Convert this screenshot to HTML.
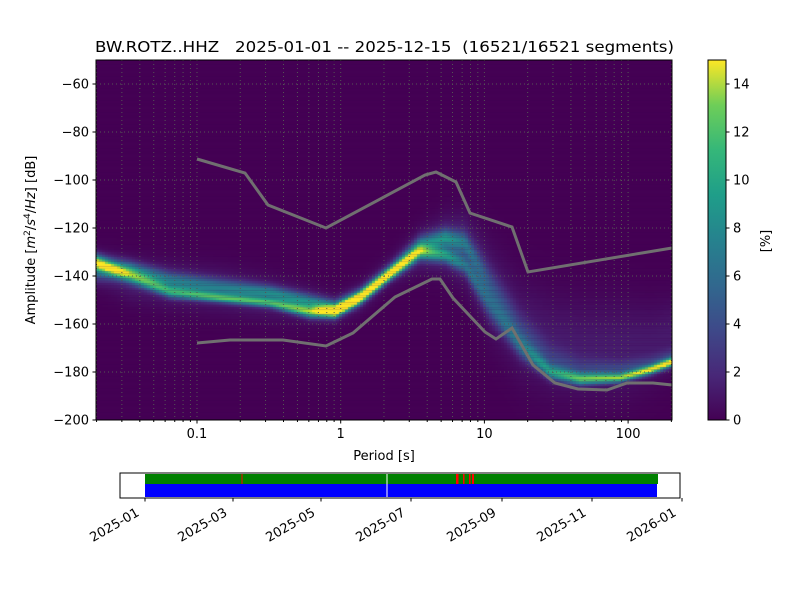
<!DOCTYPE html>
<html><head><meta charset="utf-8"><style>
body{margin:0;background:#fff;width:800px;height:600px;overflow:hidden;position:relative;font-family:"DejaVu Sans",sans-serif}
canvas{position:absolute;left:96px;top:60px}
svg{position:absolute;left:0;top:0}
</style></head><body>
<canvas id="c" width="576" height="360"></canvas>
<svg id="s" width="800" height="600" xmlns="http://www.w3.org/2000/svg" font-family="DejaVu Sans, sans-serif" font-size="13">
<defs><linearGradient id="vg" x1="0" y1="1" x2="0" y2="0">
<stop offset="0" stop-color="#440154"/><stop offset="0.125" stop-color="#482878"/><stop offset="0.25" stop-color="#3e4989"/><stop offset="0.375" stop-color="#31688e"/><stop offset="0.5" stop-color="#26828e"/><stop offset="0.625" stop-color="#1f9e89"/><stop offset="0.75" stop-color="#35b779"/><stop offset="0.875" stop-color="#6ece58"/><stop offset="1" stop-color="#fde725"/></linearGradient></defs>
<g id="grid"></g>
<polyline fill="none" stroke="#707070" stroke-width="3" points="197,159 245,173 268,205 326,228 425,175 436,172 456,182 470,213 512,227 528,272 672,248"/>
<polyline fill="none" stroke="#707070" stroke-width="3" points="197,343 230,340 283,340 326,346 353,333 395,297 432,279 440,279 453,298 485,332 496,339 512,328 533,365 555,383 578,389 607,390 627,383 653,383 672,385"/>
<rect x="96" y="60" width="576" height="360" fill="none" stroke="#000" stroke-width="1"/>
<g id="ax"></g>
<text x="95" y="52" font-size="15" textLength="579" lengthAdjust="spacingAndGlyphs" xml:space="preserve">BW.ROTZ..HHZ   2025-01-01 -- 2025-12-15  (16521/16521 segments)</text>
<text x="384" y="460" text-anchor="middle">Period [s]</text>
<text transform="translate(35,240) rotate(-90)" text-anchor="middle">Amplitude [<tspan font-style="italic">m</tspan><tspan font-size="9" dy="-5">2</tspan><tspan dy="5">/</tspan><tspan font-style="italic">s</tspan><tspan font-size="9" dy="-5">4</tspan><tspan dy="5">/</tspan><tspan font-style="italic">Hz</tspan>] [dB]</text>
<rect x="708" y="60" width="18" height="360" fill="url(#vg)" stroke="#000" stroke-width="1"/>
<text transform="translate(770,241) rotate(-90)" text-anchor="middle">[%]</text>
<rect x="120" y="473" width="560" height="25" fill="#fff" stroke="#000" stroke-width="1"/>
<rect x="145" y="474" width="513" height="10" fill="#008000"/>
<rect x="145" y="484" width="512" height="13" fill="#0000ff"/>
<rect x="241.5" y="474" width="1" height="10" fill="#f00"/>
<rect x="456" y="474" width="2.5" height="10" fill="#f00"/>
<rect x="463" y="474" width="1.5" height="10" fill="#f00"/>
<rect x="469" y="474" width="1.5" height="10" fill="#f00"/>
<rect x="472" y="474" width="2" height="10" fill="#f00"/>
<rect x="386.5" y="474" width="1" height="23" fill="#fff"/>
<g id="tb"></g>
</svg>
<script>
const s=document.getElementById('s'),NS='http://www.w3.org/2000/svg';
function el(p,t,a,txt){const e=document.createElementNS(NS,t);for(const k in a)e.setAttribute(k,a[k]);if(txt!=null)e.textContent=txt;document.getElementById(p).appendChild(e);return e;}
const X=p=>197+143.7*(Math.log10(p)+1);
for(let d=-2;d<=2;d++)for(let m=1;m<=9;m++){const x=X(m*Math.pow(10,d));if(x<=96.5||x>=671.5)continue;
 el('grid','line',{x1:x,x2:x,y1:60,y2:420,stroke:'#555',"stroke-width":1,"stroke-dasharray":"1,3"});
 el('ax','line',{x1:x,x2:x,y1:420,y2:m==1?423.5:422,stroke:'#000'});}
[[0.1,'0.1'],[1,'1'],[10,'10'],[100,'100']].forEach(([p,t])=>el('ax','text',{x:X(p),y:438,"text-anchor":"middle"},t));
for(let v=-60;v>=-200;v-=20){const y=60+(-50-v)*2.4;
 if(v>-200)el('grid','line',{x1:96,x2:672,y1:y,y2:y,stroke:'#555',"stroke-width":1,"stroke-dasharray":"1,3"});
 el('ax','line',{x1:92.5,x2:96,y1:y,y2:y,stroke:'#000'});
 el('ax','text',{x:89,y:y+4.5,"text-anchor":"end"},'\u2212'+(-v));}
for(let v=0;v<=14;v+=2){const y=420-v*24;el('ax','line',{x1:726,x2:729.5,y1:y,y2:y,stroke:'#000'});el('ax','text',{x:733,y:y+4.5},String(v));}
[[145,'2025-01'],[233,'2025-03'],[321,'2025-05'],[411,'2025-07'],[502,'2025-09'],[592,'2025-11'],[682,'2026-01']].forEach(([x,t])=>{
 el('tb','line',{x1:x,x2:x,y1:498,y2:501.5,stroke:'#000'});
 el('tb','text',{transform:`translate(${x-5},${515}) rotate(-30)`,"text-anchor":"end"},t);});
const K=[[96,[262,5,11],[268,8,6],[270,12,1]],[130,[276,5,8],[270,6,7],[280,14,1.5]],[170,[292,4,9],[281,6,6],[285,15,1.5]],
[220,[298,3,10],[288,6,6],[290,15,1.5]],[270,[303,3,10],[293,5,7],[298,14,1.5]],[310,[312,4,12],[302,5,7],[305,12,1.5]],
[335,[312,4,15],[308,5,8],[310,10,1.5]],[360,[298,4,15],[296,5,6],[298,10,1.5]],[390,[274,4,14],[272,5,6],[272,10,1.5]],
[420,[252,5,10],[245,6,6],[250,14,2]],[445,[255,5,8],[238,6,7],[245,18,2.5]],[465,[265,6,5],[243,7,5],[250,22,2.5]],
[490,[305,10,4],[285,12,3],[290,30,1.5]],[520,[345,8,5],[330,12,2.5],[330,32,1.3]],[550,[372,5,8],[360,10,2.5],[345,32,1.3]],
[580,[379,4,11],[370,8,2.5],[350,32,1.3]],[620,[378,3,12],[370,6,3],[350,32,1.3]],[650,[370,3,13],[365,6,3],[345,27,1.2]],[672,[362,3,14],[358,6,3],[335,24,1.2]]];
const V=[[68,1,84],[72,40,120],[62,73,137],[49,104,142],[38,130,142],[31,158,137],[53,183,121],[110,206,88],[181,222,43],[253,231,37]];
const Vs=[0,.125,.25,.375,.5,.625,.75,.875,.95,1];
function vir(t){t=Math.max(0,Math.min(1,t));let i=0;while(i<Vs.length-2&&t>Vs[i+1])i++;const f=(t-Vs[i])/(Vs[i+1]-Vs[i]);return V[i].map((c,j)=>Math.round(c+(V[i+1][j]-c)*f));}
const ctx=document.getElementById('c').getContext('2d');
ctx.fillStyle='#440154';ctx.fillRect(0,0,576,360);
for(let x=96;x<672;x+=3){const xc=x+1.5;let i=0;while(i<K.length-2&&xc>K[i+1][0])i++;
 const f=Math.max(0,Math.min(1,(xc-K[i][0])/(K[i+1][0]-K[i][0])));
 const comps=[1,2,3].map(j=>K[i][j].map((v,q)=>v+(K[i+1][j][q]-v)*f));
 for(let r=0;r<150;r++){const y0=60+r*2.4,yc=y0+1.2;let v=0;
  comps.forEach(([c,w,a])=>{v+=a*Math.exp(-0.5*((yc-c)/w)**2);});
  const col=vir(v/15);ctx.fillStyle=`rgb(${col})`;ctx.fillRect(x-96,y0-60,3,2.5);}}
</script>
</body></html>
